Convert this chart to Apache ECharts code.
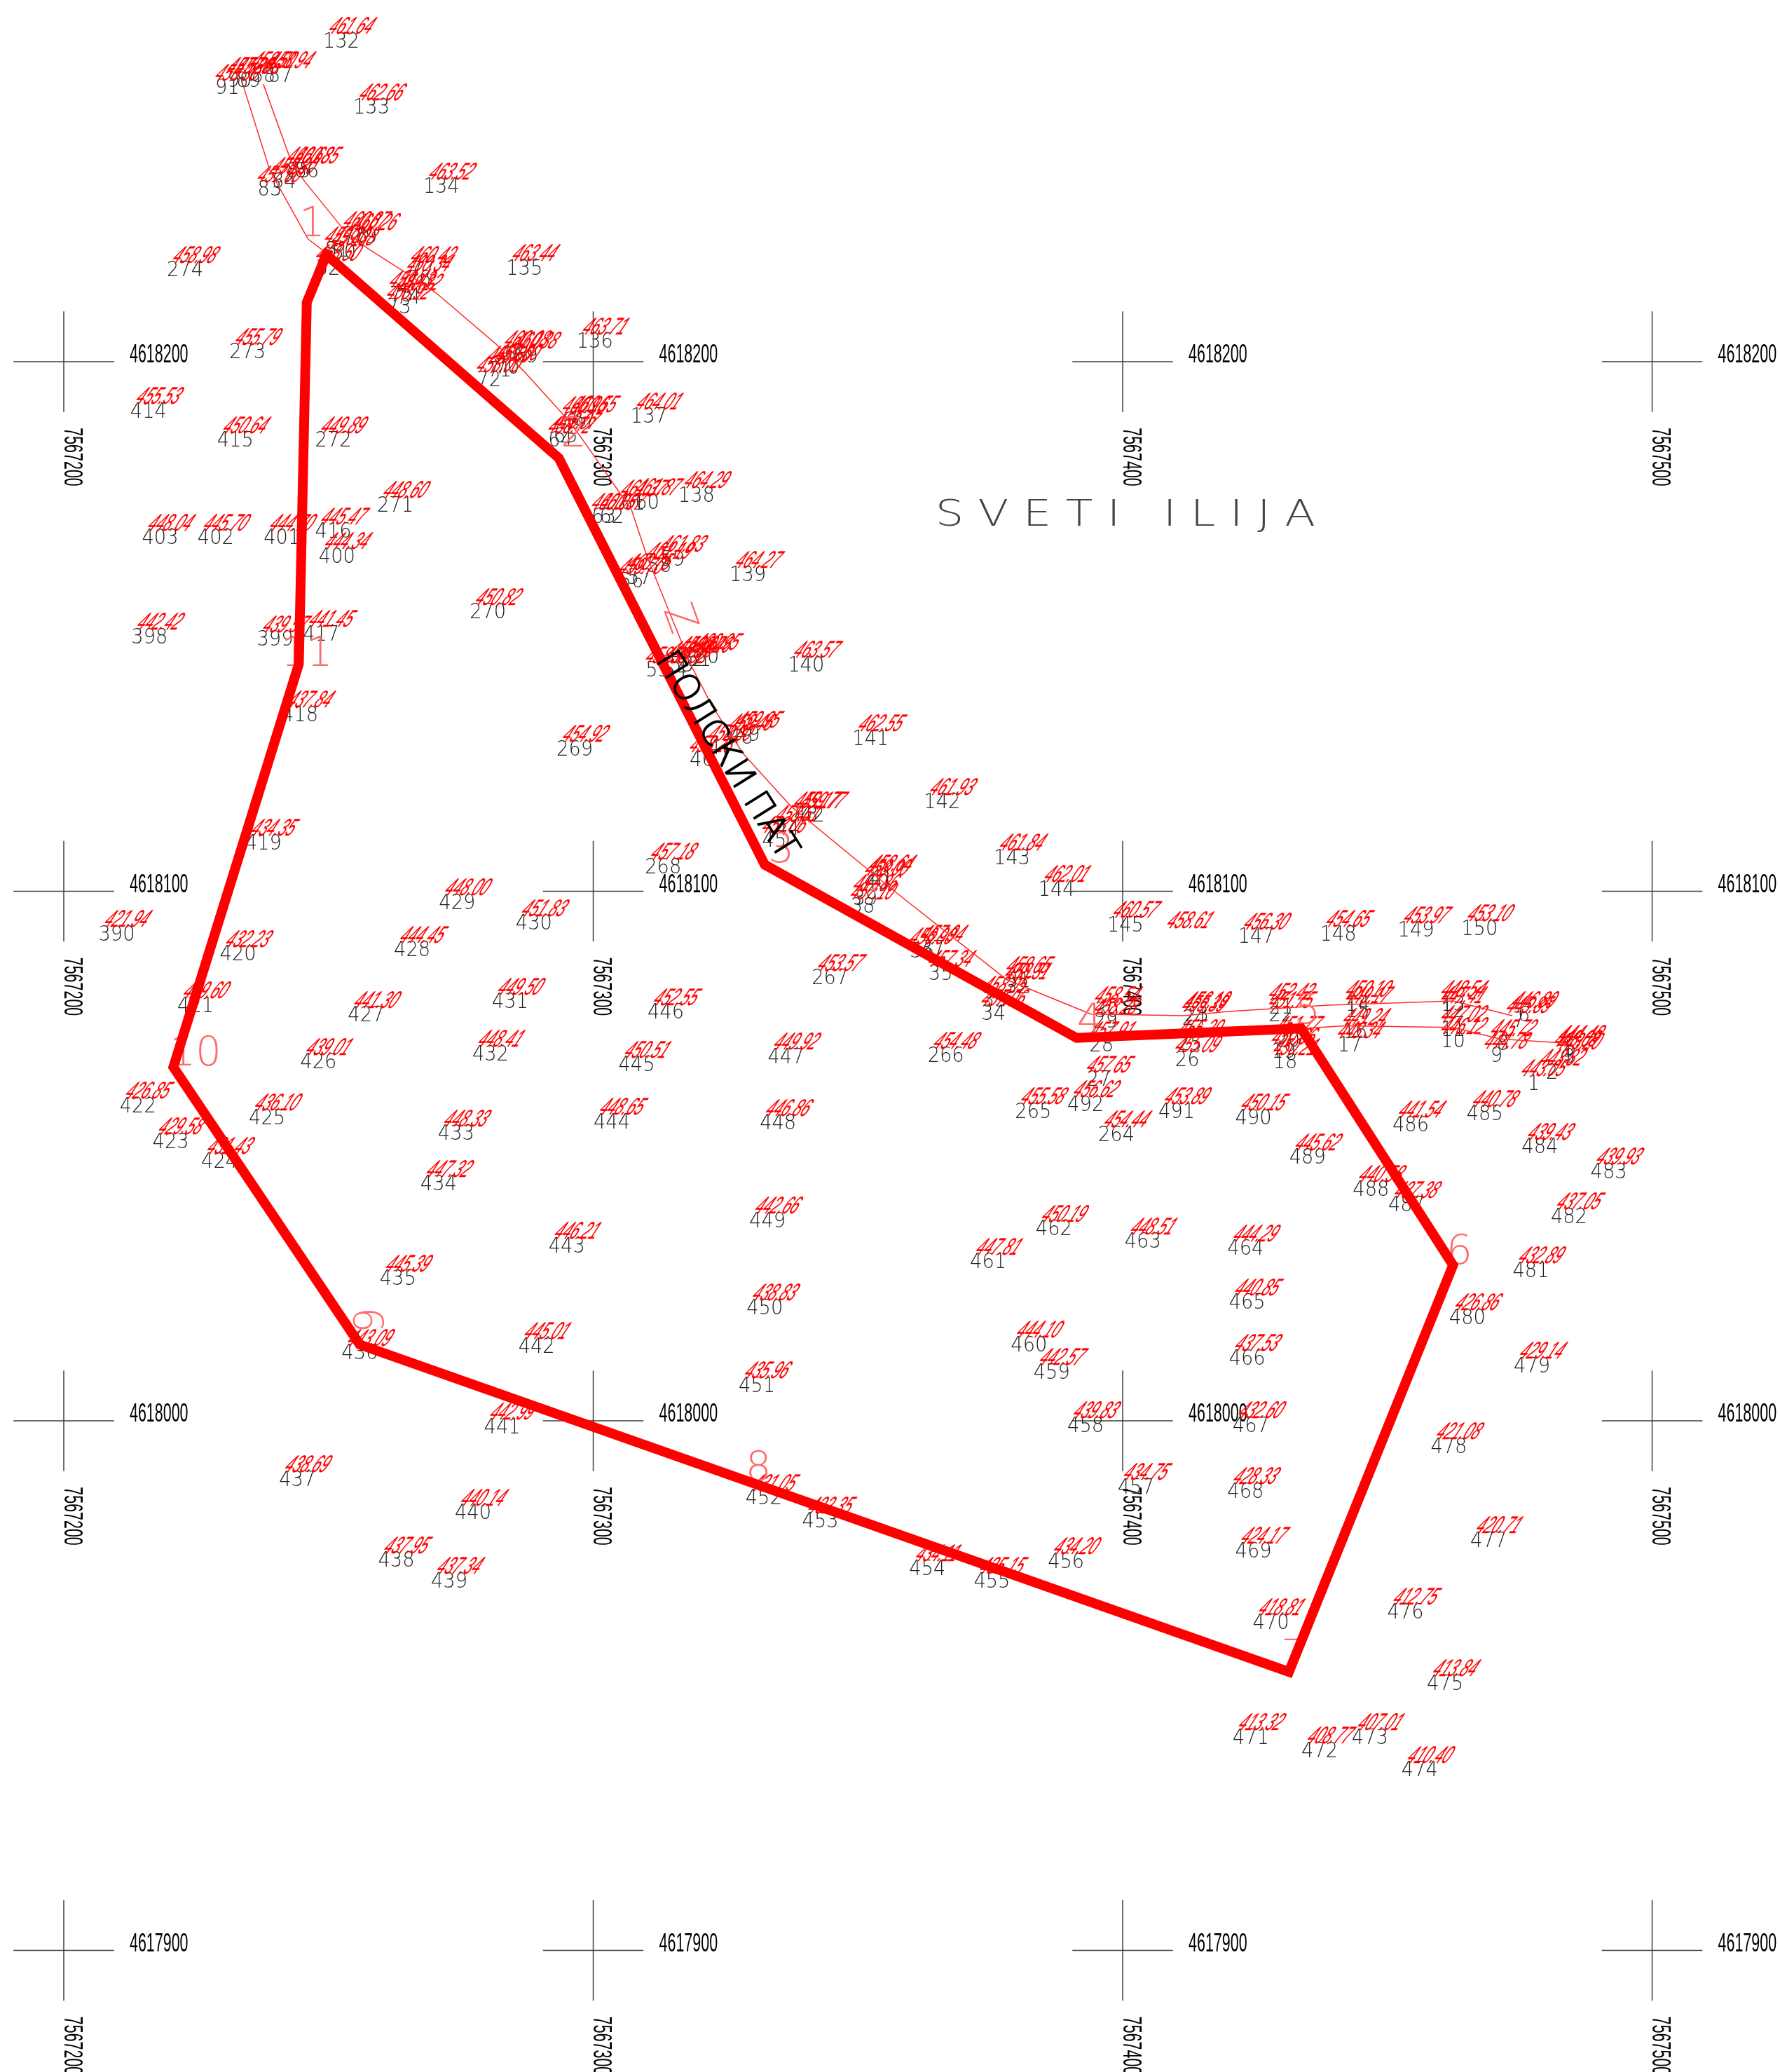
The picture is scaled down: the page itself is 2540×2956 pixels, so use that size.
<!DOCTYPE html>
<html><head><meta charset="utf-8">
<style>html,body{margin:0;padding:0;background:#fff}#c{width:2540px;height:2956px}</style>
<script src="https://cdn.jsdelivr.net/npm/echarts@6/dist/echarts.min.js"></script>
</head><body><div id="c"></div>
<script>
// Plan coordinates: metres east of 7567000 and north of 4618000.
const crossE = [200, 300, 400, 500];
const crossN = [200, 100, 0, -100];
const eastingLabels = ['7567200', '7567300', '7567400', '7567500'];
const northingLabels = ['4618200', '4618100', '4618000', '4617900'];
const boundaryE = [249.6, 293.5, 332.4, 391.3, 433.7, 462.4, 431.4, 255.9, 220.7, 244.4, 245.9, 249.6];
const boundaryN = [220.2, 181.8, 105.0, 72.3, 74.1, 29.4, -47.4, 14.4, 66.8, 142.9, 211.2, 220.2];
const leftEdge = [[233.9,252.1],[238.9,236.2],[246.1,223.2],[249.1,220.9]];
const upperEdge = [[237.7,252.4],[243.1,237.4],[245.6,233.9],[252.9,224.9],[257.4,221.4],[264.3,217.0],[270.3,213.0],[281.8,203.2],[286.8,198.3],[294.8,189.5],[298.0,185.3],[307.2,172.1],[310.2,163.1],[313.7,154.4],[318.5,142.6],[322.5,134.9],[328.4,125.9],[337.4,116.0],[356.9,100.0],[366.4,92.5],[378.1,83.3],[394.0,76.8],[411.7,76.5],[420.0,77.3],[438.9,78.5],[462.4,79.3],[473.6,76.5]];
const lowerEdge = [[433.9,74.1],[441.9,74.6],[462.4,74.3],[471.3,72.1],[483.8,71.3]];
// [label, E, N, rotation degrees]
const vertexLabels = [['1',246.9,225.7,0],['2',296.3,186.0,0],['Z',316.0,151.4,-70],['3',335.5,107.5,0],['4',393.8,75.3,0],['5',434.9,77.0,0],['6',463.6,31.7,0],['7',432.4,-44.9,0],['8',331.2,-9.2,0],['9',258.4,19.0,90],['10',224.9,69.1,0],['11',245.9,144.6,0]];
// [point id, E, N, elevation]; the road shots' E is counted from 7567200
const roadShots = [[1,277.6,63.6,443.05],[2,281.1,65.6,443.82],[3,284.3,68.6,443.20],[4,283.8,69.1,443.68],[5,284.6,70.1,444.48],[6,275.8,76.5,446.89],[7,274.8,75.5,445.85],[8,271.8,71.1,445.72],[9,270.6,68.8,444.78],[10,262.4,71.6,446.12],[11,262.4,73.8,447.02],[12,262.4,77.3,447.41],[13,262.4,78.5,448.54],[14,244.4,78.5,450.10],[15,244.4,77.3,449.17],[16,243.9,73.3,449.24],[17,242.9,70.8,448.34],[18,230.7,67.6,450.21],[19,230.4,69.6,450.66],[20,231.2,71.8,451.77],[21,229.9,78.0,452.42],[22,229.9,76.5,451.75],[23,214.0,76.5,456.19],[24,213.5,75.8,455.39],[25,212.7,71.1,455.29],[26,212.2,68.1,455.09],[27,195.5,64.3,457.65],[28,196.0,70.8,457.91],[29,196.8,75.3,458.28],[30,197.0,77.3,458.54]];
const roadShotsMiddle = [[31,180.3,83.0,458.65],[32,180.1,81.8,458.31],[33,175.8,79.3,458.05],[34,175.6,76.8,457.06],[35,165.6,84.3,457.34],[36,162.1,88.5,456.90],[37,164.1,89.0,457.94],[38,150.9,97.0,457.10],[39,151.4,98.5,457.86],[40,153.6,101.5,458.00],[41,154.4,102.2,458.64],[42,141.4,114.2,459.77],[43,140.2,114.2,459.17],[44,136.7,111.7,458.61],[45,134.2,109.5,458.06],[46,120.5,124.7,458.28],[47,124.0,126.9,458.80],[48,127.9,128.9,459.46],[49,129.2,129.4,459.95],[50,121.5,144.1,460.95],[51,120.0,143.6,460.46],[52,118.5,143.6,459.82],[53,116.7,142.6,459.30],[54,115.5,141.6,458.92],[55,112.2,141.6,458.34],[56,107.2,158.4,459.70],[57,108.7,159.1,460.75],[58,112.5,161.3,461.19],[59,115.0,162.6,461.83],[60,110.2,173.3,461.87]];
const roadShotsUpper = [[61,107.5,173.1,461.37],[62,103.5,170.6,460.87],[63,102.0,170.6,460.05],[64,93.8,185.0,458.72],[65,94.8,185.8,459.07],[66,96.5,188.8,460.96],[67,98.3,189.0,460.55],[68,85.5,201.2,460.08],[69,87.3,201.0,460.38],[70,83.8,198.8,459.60],[71,82.3,198.3,458.80],[72,80.3,196.5,458.00],[73,63.3,210.2,458.92],[74,65.1,212.0,459.22],[75,63.8,212.5,459.43],[76,67.1,215.5,460.34],[77,67.8,217.2,460.42],[78,55.1,223.7,460.87],[79,56.9,223.4,460.26],[80,52.9,220.5,459.38],[81,51.6,220.9,459.30],[82,49.9,217.5,458.50],[83,38.9,232.4,457.60],[84,41.6,233.9,458.30],[85,44.4,235.9,460.68],[86,45.9,235.9,460.85],[87,40.9,253.9,458.94],[88,37.7,253.9,458.50],[89,34.9,252.9,457.86],[90,33.2,252.9,457.20],[91,30.9,251.6,456.30]];
const slopeShots = [[132,252.4,260.4,461.64],[133,258.1,247.9,462.66],[134,271.3,232.9,463.52],[135,287.0,217.5,463.44],[136,300.3,203.7,463.71],[137,310.5,189.5,464.01],[138,319.5,174.6,464.29],[139,329.2,159.6,464.27],[140,340.2,142.6,463.57],[141,352.4,128.7,462.55],[142,365.9,116.7,461.93],[143,379.1,106.2,461.84],[144,387.5,100.2,462.01],[145,400.5,93.5,460.57],['',410.7,91.5,458.61],[147,425.2,91.3,456.30],[148,440.7,91.8,454.65],[149,455.4,92.5,453.97],[150,467.4,92.8,453.10]];
const plotWest = [[274,222.9,217.2,458.98],[273,234.7,201.7,455.79],[414,216.0,190.5,455.53],[415,232.4,185.0,450.64],[272,250.9,185.0,449.89],[271,262.6,172.8,448.60],[403,218.2,166.6,448.04],[402,228.7,166.6,445.70],[401,241.2,166.6,444.70],[416,250.9,167.8,445.47],[400,251.6,163.1,444.34],[270,280.1,152.6,450.82],[398,216.2,147.9,442.42],[399,239.9,147.4,439.57],[417,248.6,148.4,441.45],[418,244.6,133.2,437.84],[269,296.5,126.7,454.92],[419,237.7,109.0,434.35],[268,313.2,104.5,457.18],[390,210.0,91.8,421.94],[429,274.3,97.7,448.00],[430,288.8,93.8,451.83],[428,265.8,88.8,444.45],[420,232.9,88.0,432.23],[421,224.9,78.3,429.60],[267,344.7,83.5,453.57],[431,284.3,79.0,449.50],[427,257.1,76.5,441.30],[446,313.7,77.0,452.55],[426,248.1,67.6,439.01],[432,280.6,69.1,448.41],[445,308.2,67.1,450.51],[447,336.4,68.6,449.92],[266,366.6,68.8,454.48]];
const plotSouth = [[422,214.0,59.3,426.85],[425,238.4,57.1,436.10],[444,303.5,56.3,448.65],[448,334.9,56.1,446.86],[433,274.1,54.1,448.33],[423,220.2,52.6,429.58],[424,229.4,48.9,431.43],[434,270.8,44.6,447.32],[449,332.9,37.6,442.66],[443,295.0,32.9,446.21],[435,263.1,26.7,445.39],[450,332.4,21.2,438.83],[442,289.3,13.9,445.01],[436,255.9,12.7,443.09],[451,330.9,6.5,435.96],[441,282.8,-1.3,442.99],[437,244.1,-11.2,438.69],[440,277.3,-17.5,440.14],[452,332.2,-14.7,431.05],[453,342.9,-19.0,432.35],[438,262.8,-26.5,437.95],[439,272.8,-30.4,437.34],[454,363.1,-28.0,434.11],[455,375.3,-30.4,435.15],[456,389.3,-26.7,434.20]];
const plotEast = [[265,383.1,58.3,455.58],[492,393.0,59.6,456.62],[264,398.8,53.9,454.44],[491,410.2,58.3,453.89],[490,424.7,57.1,450.15],[489,434.9,49.6,445.62],[488,446.9,43.6,440.58],[487,453.6,40.6,437.38],[486,454.4,55.8,441.54],[485,468.4,57.8,440.78],[484,478.8,51.6,439.43],[483,491.8,46.9,439.93],[482,484.3,38.4,437.05],[481,477.1,28.2,432.89],[480,465.1,19.4,426.86],[479,477.3,10.2,429.14],[478,461.6,-5.0,421.08],[477,469.1,-22.7,420.71],[476,453.4,-36.2,412.75],[475,460.9,-49.7,413.84],[474,456.1,-66.1,410.40],[473,446.7,-59.9,407.01],[472,437.2,-62.4,408.77],[471,424.2,-59.9,413.32],[470,428.0,-38.2,418.81],[469,424.7,-24.7,424.17],[468,423.2,-13.5,428.33],[467,424.2,-1.0,432.60],[466,423.5,11.7,437.53],[465,423.5,22.2,440.85],[464,423.2,32.4,444.29],[463,403.8,33.7,448.51],[462,387.0,36.1,450.19],[461,374.6,29.9,447.81],[460,382.3,14.2,444.10],[459,386.6,9.0,442.57],[458,393.0,-1.0,439.83],[457,402.5,-12.7,434.75]];
const shiftRoad = r => [r[0], r[1] + 200, r[2], r[3]];
const shots = [].concat(roadShots.map(shiftRoad), roadShotsMiddle.map(shiftRoad), roadShotsUpper.map(shiftRoad), slopeShots, plotWest, plotSouth, plotEast);
const placeName = ['S V E T I   I L I J A', 400.5, 170.8];
const roadName = ['ПОЛСКИ ПАТ', 325.0, 125.6];

const xMin = 187.955, xMax = 524.15, yMax = 268.3, yMin = -122.96;
const THIN = "200 31px 'DejaVu Sans'";
const chart = echarts.init(document.getElementById('c'), null, {renderer: 'canvas', width: 2540, height: 2956});
const crosses = [];
crossE.forEach((e, i) => crossN.forEach((n, j) => crosses.push([e, n, i, j])));

chart.setOption({
  animation: false,
  backgroundColor: '#fff',
  grid: {left: 0, right: 0, top: 0, bottom: 0},
  xAxis: {type: 'value', min: xMin, max: xMax, show: false},
  yAxis: {type: 'value', min: yMin, max: yMax, show: false},
  series: [
    {type: 'custom', z: 1, clip: false, silent: true, data: crosses,
      renderItem(p, api) {
        const e = api.value(0), n = api.value(1);
        const L = 9.5;
        const a = api.coord([e - L, n]), b = api.coord([e + L, n]), c = api.coord([e, n - L]), d = api.coord([e, n + L]), o = api.coord([e, n]);
        const ln = (s, t) => ({type: 'line', shape: {x1: s[0], y1: s[1], x2: t[0], y2: t[1]}, style: {stroke: '#3c3c3c', lineWidth: 1.5}});
        const font = "400 37px 'Liberation Sans'";
        return {type: 'group', children: [ln(a, b), ln(c, d),
          {type: 'text', x: o[0] + 94, y: o[1] - 9, scaleX: 0.58, style: {text: northingLabels[api.value(3)], font, fill: '#000', textAlign: 'left', textVerticalAlign: 'middle'}},
          {type: 'text', x: o[0] + 11, y: o[1] + 136, rotation: -Math.PI / 2, scaleX: 0.58, style: {text: eastingLabels[api.value(2)], font, fill: '#000', textAlign: 'center', textVerticalAlign: 'middle'}}
        ]};
      }},
    {type: 'custom', z: 2, clip: false, silent: true, data: shots.map(s => [s[1], s[2]]),
      renderItem(p, api) {
        const o = api.coord([api.value(0), api.value(1)]);
        const s = shots[p.dataIndex];
        return {type: 'text', x: o[0], y: o[1], scaleX: 0.88, style: {text: String(s[0]), font: THIN, fill: '#222', textAlign: 'center', textVerticalAlign: 'middle'}};
      }},
    {type: 'custom', z: 3, clip: false, silent: true, data: shots.map(s => [s[1], s[2]]),
      renderItem(p, api) {
        const o = api.coord([api.value(0), api.value(1)]);
        const s = shots[p.dataIndex];
        return {type: 'text', x: o[0] + 15, y: o[1] - 21, scaleX: 0.58, skewX: -0.5, style: {text: s[3].toFixed(2), font: "italic 400 34px 'Liberation Sans'", fill: '#ff0000', stroke: '#ff0000', lineWidth: 0.3, textAlign: 'center', textVerticalAlign: 'middle'}};
      }},
    {type: 'line', z: 4, silent: true, showSymbol: false, data: leftEdge, lineStyle: {color: '#ff2a2a', width: 1.5}},
    {type: 'line', z: 4, silent: true, showSymbol: false, data: upperEdge, lineStyle: {color: '#ff2a2a', width: 1.5}},
    {type: 'line', z: 4, silent: true, showSymbol: false, data: lowerEdge, lineStyle: {color: '#ff2a2a', width: 1.5}},
    {type: 'custom', z: 5, clip: false, silent: true, data: vertexLabels.map(v => [v[1], v[2]]),
      renderItem(p, api) {
        const o = api.coord([api.value(0), api.value(1)]);
        const v = vertexLabels[p.dataIndex];
        return {type: 'text', x: o[0], y: o[1], rotation: v[3] * Math.PI / 180, style: {text: v[0], font: "200 58px 'DejaVu Sans'", fill: '#ff6a6a', textAlign: 'center', textVerticalAlign: 'middle'}};
      }},
    {type: 'line', z: 6, silent: true, showSymbol: false, data: boundaryE.map((e, i) => [e, boundaryN[i]]), lineStyle: {color: '#ff0000', width: 14, join: 'miter', cap: 'square'}},
    {type: 'custom', z: 7, clip: false, silent: true, data: [[placeName[1], placeName[2]], [roadName[1], roadName[2]]],
      renderItem(p, api) {
        const o = api.coord([api.value(0), api.value(1)]);
        if (p.dataIndex === 0) return {type: 'text', x: o[0], y: o[1], scaleX: 1.23, style: {text: placeName[0], font: "200 52px 'DejaVu Sans'", fill: '#444', textAlign: 'center', textVerticalAlign: 'middle'}};
        return {type: 'text', x: o[0], y: o[1], rotation: -58 * Math.PI / 180, style: {text: roadName[0], font: "200 50px 'DejaVu Sans'", fill: '#000', stroke: '#000', lineWidth: 1.4, textAlign: 'center', textVerticalAlign: 'middle'}};
      }}
  ]
});
</script></body></html>
